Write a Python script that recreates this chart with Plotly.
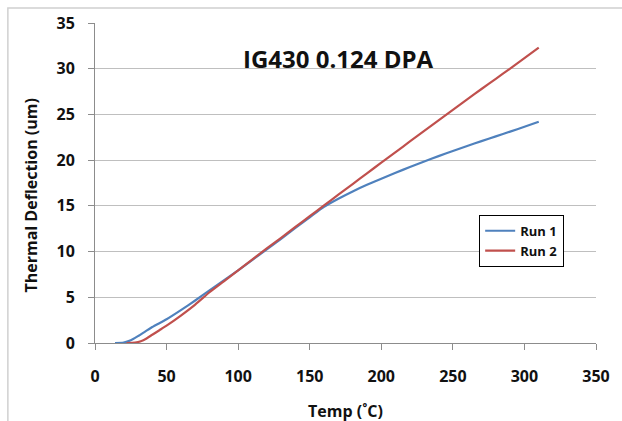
import plotly.graph_objects as go

# Thermal deflection measurements, two heating runs
run1_temp = [14, 20, 25, 30, 35, 40, 50, 60, 70, 80, 90, 100, 110, 120, 130, 140,
             150, 160, 170, 180, 190, 200, 210, 220, 230, 240, 250, 260, 270, 280,
             290, 300, 310]
run1_defl = [0.0, 0.05, 0.3, 0.75, 1.25, 1.75, 2.6, 3.6, 4.65, 5.75, 6.85, 7.95, 9.1, 10.25,
             11.4, 12.6, 13.75, 14.9, 15.78, 16.58, 17.3, 17.97, 18.62, 19.25, 19.86,
             20.44, 21.0, 21.55, 22.08, 22.6, 23.12, 23.65, 24.2]

run2_temp = [22, 28, 32, 36, 40, 45, 50, 60, 70, 80, 90, 100, 110, 120, 130, 140,
             150, 160, 170, 180, 190, 200, 210, 220, 230, 240, 250, 260, 270, 280,
             290, 300, 310]
run2_defl = [0.0, 0.05, 0.2, 0.5, 0.9, 1.4, 1.9, 3.0, 4.2, 5.55, 6.75, 7.95, 9.15, 10.35,
             11.5, 12.7, 13.87, 15.05, 16.22, 17.39, 18.56, 19.72, 20.88, 22.04, 23.2,
             24.35, 25.5, 26.64, 27.78, 28.9, 30.02, 31.15, 32.3]

x_ticks = [0, 50, 100, 150, 200, 250, 300, 350]
y_ticks = [0, 5, 10, 15, 20, 25, 30, 35]

FONT = "Open Sans"
TXT = "#111111"
W, H = 622, 421
ML, MR, MT, MB = 95, 21, 21, 78
PW, PH = W - ML - MR, H - MT - MB


def px_x(p):
    """Horizontal pixel position -> paper coordinate."""
    return (p - ML) / PW


def px_y(p):
    """Vertical pixel position (from top) -> paper coordinate."""
    return (H - MB - p) / PH


fig = go.Figure()
fig.add_trace(go.Scatter(x=run1_temp, y=run1_defl, mode="lines", name="Run 1",
                         line=dict(color="#4F81BD", width=2.2, shape="spline", smoothing=0.6)))
fig.add_trace(go.Scatter(x=run2_temp, y=run2_defl, mode="lines", name="Run 2",
                         line=dict(color="#C0504D", width=2.2, shape="spline", smoothing=0.6)))

axis_common = dict(
    showline=True, linecolor="#8C8C8C", linewidth=1,
    ticks="outside", ticklen=6, tickcolor="#8C8C8C", tickwidth=1,
    tickfont=dict(family=FONT, size=16, color=TXT, weight="bold"),
    zeroline=False,
)

fig.update_layout(
    width=W, height=H,
    margin=dict(l=ML, r=MR, t=MT, b=MB),
    paper_bgcolor="white", plot_bgcolor="white",
    xaxis=dict(range=[0, 350], tickvals=x_ticks, showgrid=False,
               ticklabelstandoff=13, **axis_common),
    yaxis=dict(range=[0, 35], tickvals=y_ticks, showgrid=True, gridcolor="#BFBFBF",
               gridwidth=1, ticklabelstandoff=10, **axis_common),
    showlegend=True,
    legend=dict(x=px_x(483), y=px_y(214), xanchor="left", yanchor="top",
                bordercolor="#000000", borderwidth=1, bgcolor="white",
                font=dict(family=FONT, size=13, color=TXT, weight="bold"),
                itemwidth=30, tracegroupgap=0),
    font=dict(family=FONT),
)

# chart title inside the plot area
fig.add_annotation(text="IG430 0.124 DPA", xref="x", yref="y", x=170, y=31.1,
                   xanchor="center", yanchor="middle", showarrow=False,
                   font=dict(family=FONT, size=24, color=TXT, weight="bold"))

# axis titles
fig.add_annotation(text="Thermal Deflection (um)", xref="paper", yref="paper",
                   x=px_x(30), y=px_y(195), xanchor="center", yanchor="middle",
                   textangle=-90, showarrow=False,
                   font=dict(family=FONT, size=16, color=TXT, weight="bold"))
fig.add_annotation(text="Temp (˚C)", xref="paper", yref="paper",
                   x=px_x(348), y=px_y(411), xanchor="center", yanchor="middle",
                   showarrow=False,
                   font=dict(family=FONT, size=16, color=TXT, weight="bold"))

# light outer frame of the chart area
fig.add_shape(type="rect", xref="paper", yref="paper",
              x0=px_x(7), x1=px_x(W + 10), y0=px_y(H + 10), y1=px_y(6),
              line=dict(color="#D0D0D0", width=1.5), layer="below")

fig.write_html("out.html")
